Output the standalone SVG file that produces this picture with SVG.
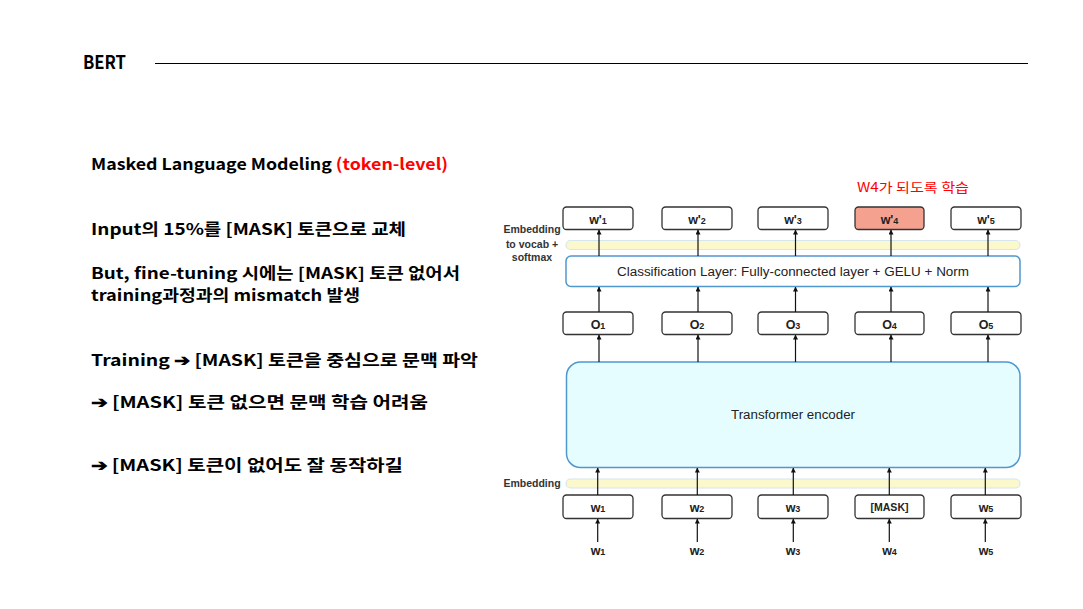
<svg xmlns="http://www.w3.org/2000/svg" width="1083" height="609" viewBox="0 0 1083 609">
<defs>
<marker id="ah" viewBox="0 0 6 6" refX="5.5" refY="3" markerWidth="5" markerHeight="5" orient="auto" markerUnits="userSpaceOnUse">
<path d="M0,0 L6,3 L0,6 z" fill="#111"/>
</marker>
<style>
.kr{font-family:"Noto Sans CJK KR","Liberation Sans",sans-serif;font-weight:bold;font-size:16px;fill:#000}
.box{fill:#fff;stroke:#333;stroke-width:1.3}
.lbl{font-family:"Liberation Sans",Arial,sans-serif;font-weight:bold;font-size:12.5px;fill:#222;text-anchor:middle}
.sub{font-size:9px}
.side{font-family:"Liberation Sans",Arial,sans-serif;font-weight:bold;font-size:10.5px;fill:#333;text-anchor:middle}
.bar{fill:#fbf9cc;stroke:#d6e6ee;stroke-width:1.2}
.blue{stroke:#4f97cf;stroke-width:1.5}
.mid{font-family:"Liberation Sans",Arial,sans-serif;font-size:12.5px;fill:#222;text-anchor:middle}
.arr{stroke:#111;stroke-width:1.2;fill:none;marker-end:url(#ah)}
</style>
</defs>
<rect width="1083" height="609" fill="#fff"/>

<g id="header">
<text x="83" y="69" font-family="Noto Sans CJK KR, Liberation Sans, sans-serif" font-weight="bold" font-size="19" textLength="43" lengthAdjust="spacingAndGlyphs" fill="#000">BERT</text>
<line x1="155" y1="63.5" x2="1028" y2="63.5" stroke="#000" stroke-width="1"/>
</g>

<g id="left-text">
<text class="kr" x="91" y="170" textLength="357" lengthAdjust="spacingAndGlyphs">Masked Language Modeling <tspan fill="#ff0000">(token-level)</tspan></text>
<text class="kr" x="91" y="235" textLength="315" lengthAdjust="spacingAndGlyphs">Input의 15%를 [MASK] 토큰으로 교체</text>
<text class="kr" x="91" y="278.5" font-size="15.5" style="font-size:15.5px" textLength="369" lengthAdjust="spacingAndGlyphs">But, fine-tuning 시에는 [MASK] 토큰 없어서</text>
<text class="kr" x="91" y="300.5" font-size="15.5" style="font-size:15.5px" textLength="269" lengthAdjust="spacingAndGlyphs">training과정과의 mismatch 발생</text>
<text class="kr" x="91" y="366" textLength="387" lengthAdjust="spacingAndGlyphs">Training ➔ [MASK] 토큰을 중심으로 문맥 파악</text>
<text class="kr" x="91" y="408" textLength="337" lengthAdjust="spacingAndGlyphs">➔ [MASK] 토큰 없으면 문맥 학습 어려움</text>
<text class="kr" x="91" y="471" textLength="312" lengthAdjust="spacingAndGlyphs">➔ [MASK] 토큰이 없어도 잘 동작하길</text>
</g>

<g id="note">
<text x="857" y="192" font-family="Noto Sans CJK KR, Liberation Sans, sans-serif" font-size="13" fill="#ff0000" textLength="112" lengthAdjust="spacingAndGlyphs">W4가 되도록 학습</text>
</g>

<g id="side-labels">
<text class="side" x="532" y="233">Embedding</text>
<text class="side" x="532" y="248">to vocab +</text>
<text class="side" x="532" y="261">softmax</text>
<text class="side" x="532" y="486.5">Embedding</text>
</g>

<g id="embedding-top"><rect class="bar" x="566" y="240.5" width="454" height="9" rx="4.5"/></g>
<g id="embedding-bottom"><rect class="bar" x="566" y="479" width="454" height="9" rx="4.5"/></g>

<g id="classification">
<rect x="566" y="256" width="454" height="30.5" rx="5" fill="#fff" class="blue"/>
<text class="mid" x="793" y="276" textLength="352" lengthAdjust="spacingAndGlyphs">Classification Layer: Fully-connected layer + GELU + Norm</text>
</g>

<g id="encoder">
<rect x="566.5" y="362" width="453.5" height="105.5" rx="14" fill="#e6fdff" class="blue"/>
<text class="mid" x="793" y="419" font-size="13" textLength="124" lengthAdjust="spacingAndGlyphs">Transformer encoder</text>
</g>

<g id="out1"><rect class="box" x="563" y="207" width="70" height="22.5" rx="3.5"/><text class="lbl" x="598" y="223.5">w'<tspan class="sub">1</tspan></text></g>
<g id="out2"><rect class="box" x="662" y="207" width="70" height="22.5" rx="3.5"/><text class="lbl" x="697" y="223.5">w'<tspan class="sub">2</tspan></text></g>
<g id="out3"><rect class="box" x="758" y="207" width="70" height="22.5" rx="3.5"/><text class="lbl" x="793" y="223.5">w'<tspan class="sub">3</tspan></text></g>
<g id="out4"><rect class="box" x="855" y="207" width="69" height="22.5" rx="3.5" style="fill:#f4a28f"/><text class="lbl" x="889.5" y="223.5">w'<tspan class="sub">4</tspan></text></g>
<g id="out5"><rect class="box" x="951" y="207" width="70" height="22.5" rx="3.5"/><text class="lbl" x="986" y="223.5">w'<tspan class="sub">5</tspan></text></g>

<g id="o1"><rect class="box" x="563" y="312" width="70" height="22.5" rx="3.5"/><text class="lbl" x="598" y="328.5">O<tspan class="sub">1</tspan></text></g>
<g id="o2"><rect class="box" x="662" y="312" width="70" height="22.5" rx="3.5"/><text class="lbl" x="697" y="328.5">O<tspan class="sub">2</tspan></text></g>
<g id="o3"><rect class="box" x="758" y="312" width="70" height="22.5" rx="3.5"/><text class="lbl" x="793" y="328.5">O<tspan class="sub">3</tspan></text></g>
<g id="o4"><rect class="box" x="855" y="312" width="69" height="22.5" rx="3.5"/><text class="lbl" x="889.5" y="328.5">O<tspan class="sub">4</tspan></text></g>
<g id="o5"><rect class="box" x="951" y="312" width="70" height="22.5" rx="3.5"/><text class="lbl" x="986" y="328.5">O<tspan class="sub">5</tspan></text></g>

<g id="in1"><rect class="box" x="563" y="495" width="70" height="23.5" rx="3.5"/><text class="lbl" x="598" y="512">w<tspan class="sub">1</tspan></text></g>
<g id="in2"><rect class="box" x="662" y="495" width="70" height="23.5" rx="3.5"/><text class="lbl" x="697" y="512">w<tspan class="sub">2</tspan></text></g>
<g id="in3"><rect class="box" x="758" y="495" width="70" height="23.5" rx="3.5"/><text class="lbl" x="793" y="512">w<tspan class="sub">3</tspan></text></g>
<g id="in4"><rect class="box" x="855" y="495" width="69" height="23.5" rx="3.5"/><text class="lbl" x="889.5" y="510.5" font-size="10" style="font-size:10px" textLength="38" lengthAdjust="spacingAndGlyphs">[MASK]</text></g>
<g id="in5"><rect class="box" x="951" y="495" width="70" height="23.5" rx="3.5"/><text class="lbl" x="986" y="512">w<tspan class="sub">5</tspan></text></g>

<g id="tok1"><text class="lbl" x="598" y="555">w<tspan class="sub">1</tspan></text></g>
<g id="tok2"><text class="lbl" x="697" y="555">w<tspan class="sub">2</tspan></text></g>
<g id="tok3"><text class="lbl" x="793" y="555">w<tspan class="sub">3</tspan></text></g>
<g id="tok4"><text class="lbl" x="889.5" y="555">w<tspan class="sub">4</tspan></text></g>
<g id="tok5"><text class="lbl" x="986" y="555">w<tspan class="sub">5</tspan></text></g>

<g id="connectors">
<line class="arr" x1="599" y1="256" x2="599" y2="230"/>
<line class="arr" x1="698" y1="256" x2="698" y2="230"/>
<line class="arr" x1="795.5" y1="256" x2="795.5" y2="230"/>
<line class="arr" x1="891" y1="256" x2="891" y2="230"/>
<line class="arr" x1="988" y1="256" x2="988" y2="230"/>

<line class="arr" x1="599" y1="312" x2="599" y2="287"/>
<line class="arr" x1="698" y1="312" x2="698" y2="287"/>
<line class="arr" x1="795.5" y1="312" x2="795.5" y2="287"/>
<line class="arr" x1="891" y1="312" x2="891" y2="287"/>
<line class="arr" x1="988" y1="312" x2="988" y2="287"/>

<line class="arr" x1="599" y1="362" x2="599" y2="335"/>
<line class="arr" x1="698" y1="362" x2="698" y2="335"/>
<line class="arr" x1="795.5" y1="362" x2="795.5" y2="335"/>
<line class="arr" x1="891" y1="362" x2="891" y2="335"/>
<line class="arr" x1="988" y1="362" x2="988" y2="335"/>

<line class="arr" x1="597.7" y1="495" x2="597.7" y2="468"/>
<line class="arr" x1="697.3" y1="495" x2="697.3" y2="468"/>
<line class="arr" x1="793.3" y1="495" x2="793.3" y2="468"/>
<line class="arr" x1="889.3" y1="495" x2="889.3" y2="468"/>
<line class="arr" x1="985.3" y1="495" x2="985.3" y2="468"/>

<line class="arr" x1="597.7" y1="542" x2="597.7" y2="519"/>
<line class="arr" x1="697.3" y1="542" x2="697.3" y2="519"/>
<line class="arr" x1="793.3" y1="542" x2="793.3" y2="519"/>
<line class="arr" x1="889.3" y1="542" x2="889.3" y2="519"/>
<line class="arr" x1="985.3" y1="542" x2="985.3" y2="519"/>
</g>
</svg>
